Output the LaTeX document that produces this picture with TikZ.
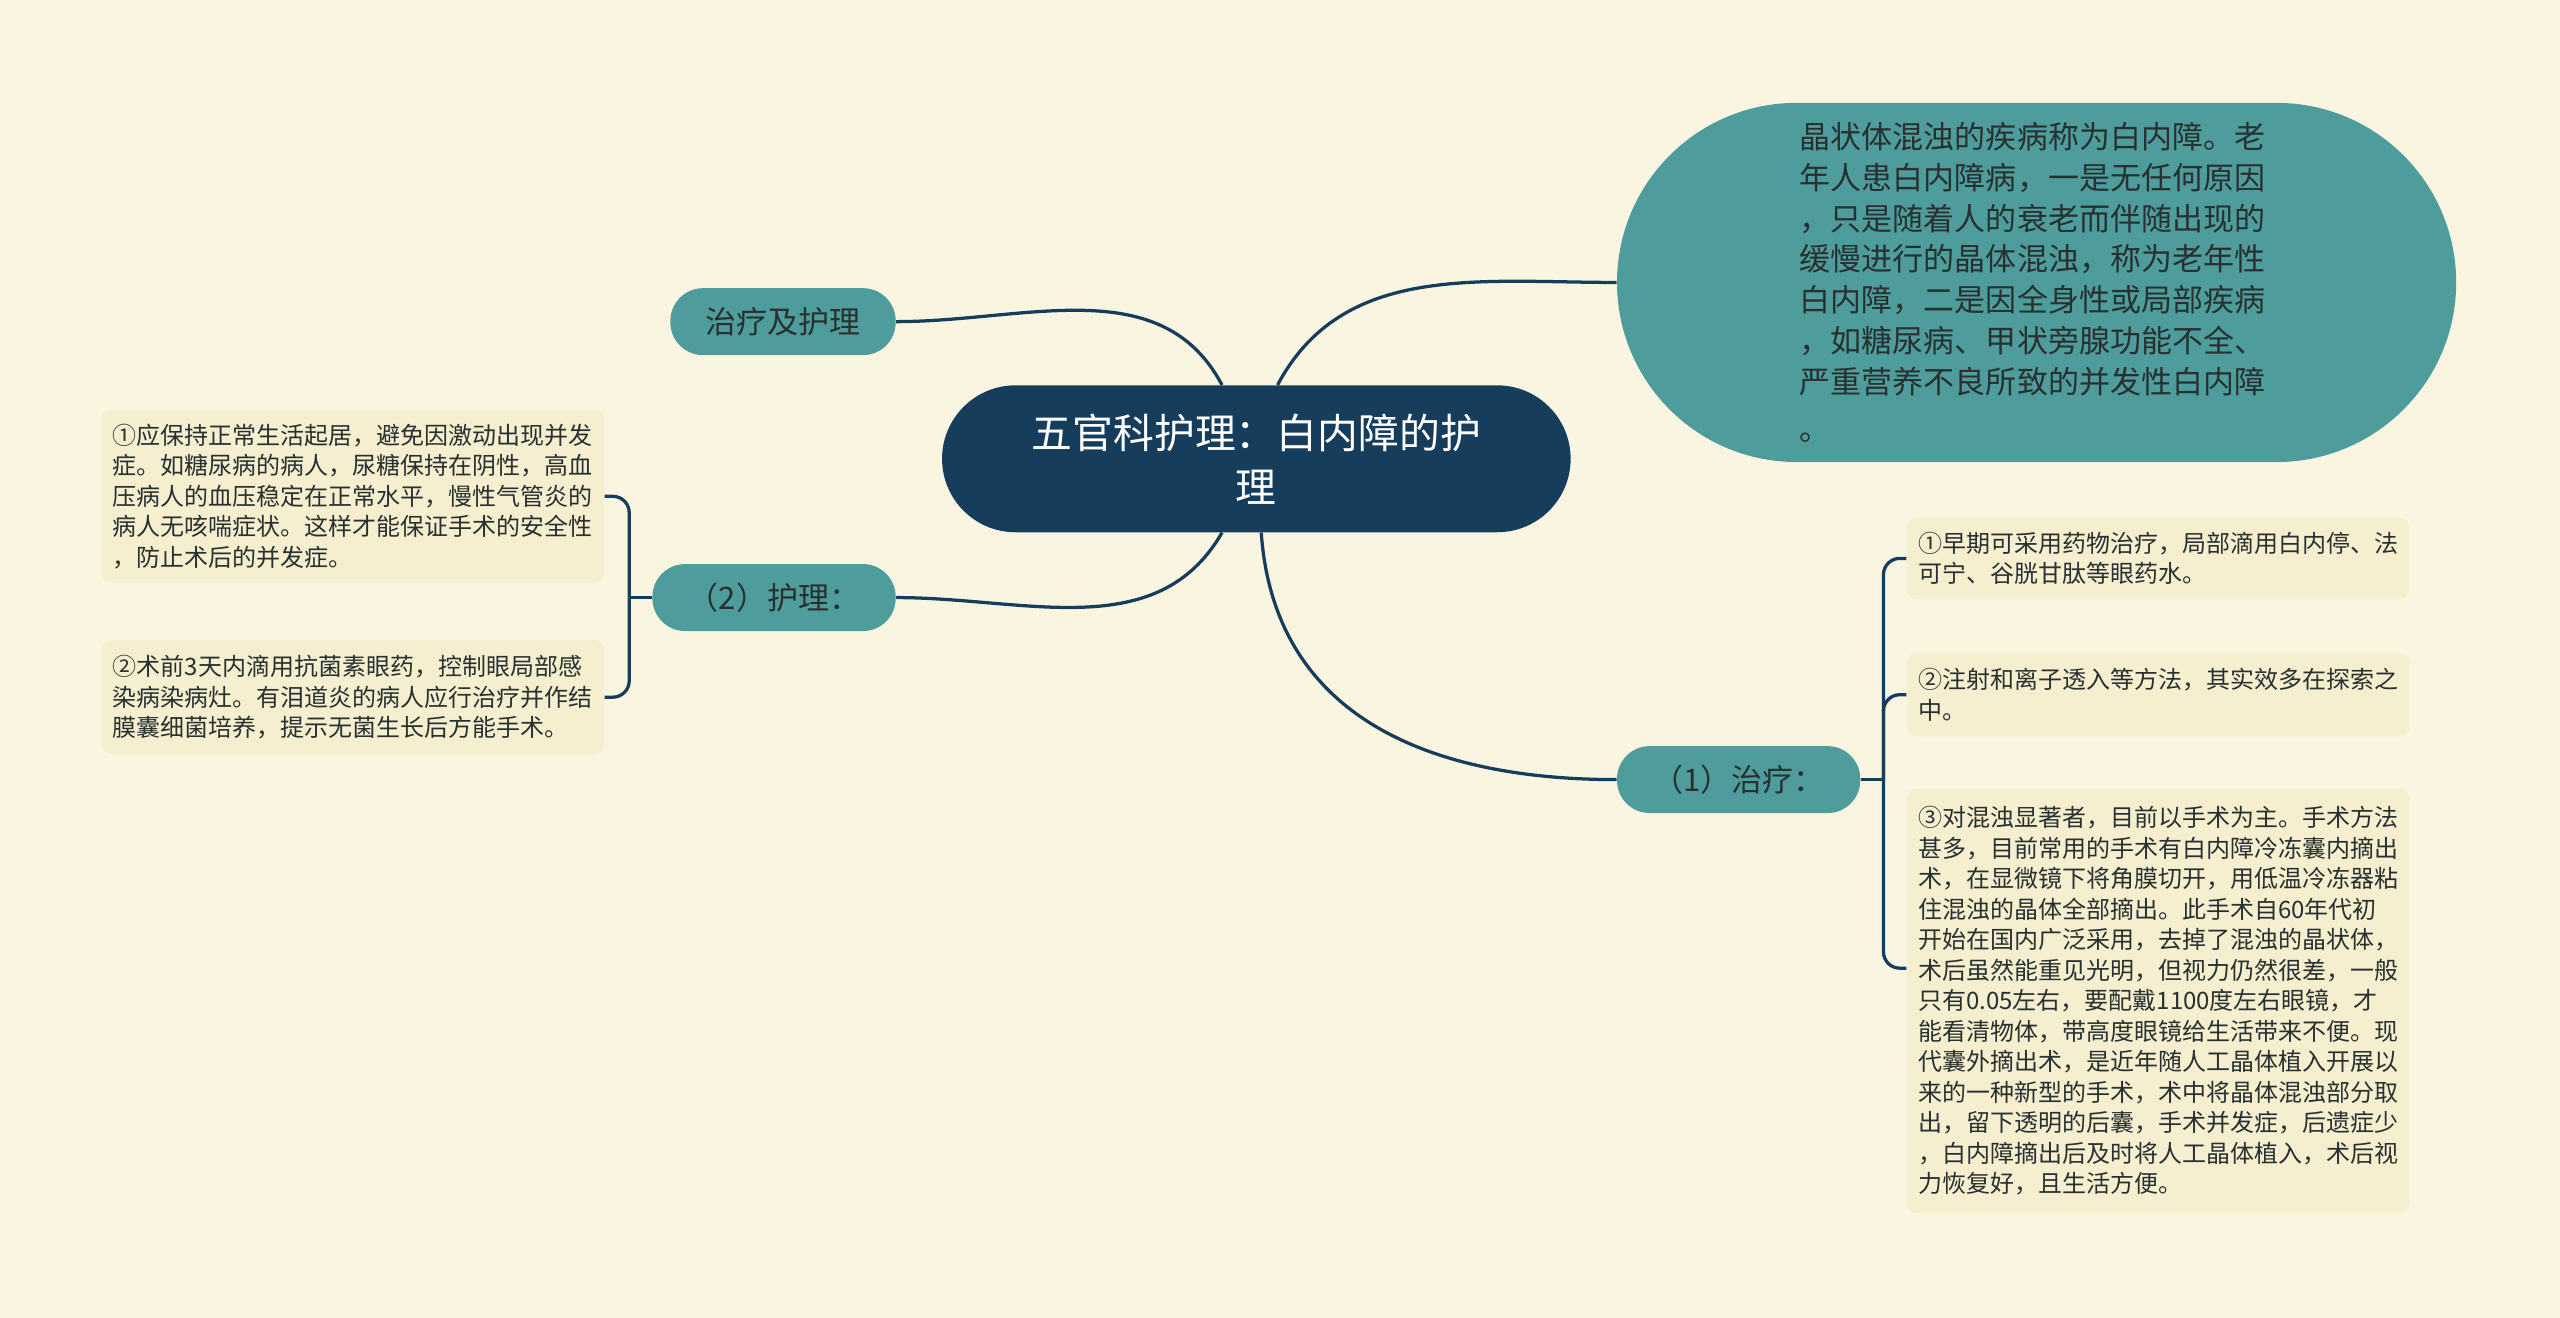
\documentclass[tikz,border=0pt]{standalone}
\usepackage{fontspec}
\setmainfont{Noto Sans CJK SC}
\usepackage{xcolor}
\usepackage{tikz}
\usetikzlibrary{positioning}
\definecolor{bgcolor}{RGB}{250,245,225}
\definecolor{hubcolor}{RGB}{23,61,92}
\definecolor{branchcolor}{RGB}{78,156,156}
\definecolor{leafcolor}{RGB}{245,239,208}
\definecolor{linkcolor}{RGB}{23,61,92}
\definecolor{textcolor}{RGB}{40,48,48}

\begin{document}
\begin{tikzpicture}[
    x=1pt, y=1pt,
    font=\fontsize{19}{25}\selectfont,
    link/.style={line width=2pt, color=linkcolor},
    hubbox/.style={
        rectangle,
        rounded corners=45pt,
        minimum width=385pt,
        minimum height=90pt,
        align=center,
        fill=hubcolor,
        text=white,
        font=\fontsize{25}{33}\selectfont
    },
    branchbox/.style={
        rectangle,
        rounded corners=20pt,
        minimum height=41pt,
        fill=branchcolor,
        text=textcolor
    },
    leafbox/.style={
        rectangle,
        rounded corners=6pt,
        text width=294pt,
        inner xsep=7pt,
        inner ysep=6pt,
        align=left,
        fill=leafcolor,
        text=textcolor,
        font=\fontsize{14.7}{18.7}\selectfont
    }
]

% Background
\fill [bgcolor] (0,0) rectangle (1568,-807);

%% CENTRE %%
\node (hub) [hubbox] at (769.5,-281) {五官科护理：白内障的护\\理};

%% RIGHT SIDE - definition %%
\node (defn_box) [
    right=28pt of hub,
    yshift=108pt,
    rectangle,
    rounded corners=110pt,
    minimum width=514pt,
    minimum height=220pt,
    text width=290pt,
    align=left,
    fill=branchcolor,
    text=textcolor
] {晶状体混浊的疾病称为白内障。老\\
年人患白内障病，一是无任何原因\\
，只是随着人的衰老而伴随出现的\\
缓慢进行的晶体混浊，称为老年性\\
白内障，二是因全身性或局部疾病\\
，如糖尿病、甲状旁腺功能不全、\\
严重营养不良所致的并发性白内障\\[4pt]
。};

%% LEFT SIDE - branches %%
\node (care_title) [branchbox, minimum width=138pt, left=28pt of hub, yshift=84pt] {治疗及护理};

\node (nursing) [branchbox, minimum width=149pt, left=28pt of hub, yshift=-85pt] {（2）护理：};

\node (nurse_a) [leafbox, left=29pt of nursing, yshift=62pt, minimum height=106pt] {①应保持正常生活起居，避免因激动出现并发\\
症。如糖尿病的病人，尿糖保持在阴性，高血\\
压病人的血压稳定在正常水平，慢性气管炎的\\
病人无咳喘症状。这样才能保证手术的安全性\\
，防止术后的并发症。};

\node (nurse_b) [leafbox, left=29pt of nursing, yshift=-61pt, minimum height=70pt] {②术前3天内滴用抗菌素眼药，控制眼局部感\\
染病染病灶。有泪道炎的病人应行治疗并作结\\
膜囊细菌培养，提示无菌生长后方能手术。};

%% RIGHT SIDE - treatment %%
\node (treat) [branchbox, minimum width=149pt, right=28pt of hub, yshift=-196.5pt] {（1）治疗：};

\node (treat_a) [leafbox, right=28pt of treat, yshift=135.5pt, minimum height=50pt] {①早期可采用药物治疗，局部滴用白内停、法\\
可宁、谷胱甘肽等眼药水。};

\node (treat_b) [leafbox, right=28pt of treat, yshift=52pt, minimum height=51pt] {②注射和离子透入等方法，其实效多在探索之\\
中。};

\node (treat_c) [leafbox, right=28pt of treat, yshift=-135.5pt, minimum height=260pt] {③对混浊显著者，目前以手术为主。手术方法\\
甚多，目前常用的手术有白内障冷冻囊内摘出\\
术，在显微镜下将角膜切开，用低温冷冻器粘\\
住混浊的晶体全部摘出。此手术自60年代初\\
开始在国内广泛采用，去掉了混浊的晶状体，\\
术后虽然能重见光明，但视力仍然很差，一般\\
只有0.05左右，要配戴1100度左右眼镜，才\\
能看清物体，带高度眼镜给生活带来不便。现\\
代囊外摘出术，是近年随人工晶体植入开展以\\
来的一种新型的手术，术中将晶体混浊部分取\\
出，留下透明的后囊，手术并发症，后遗症少\\
，白内障摘出后及时将人工晶体植入，术后视\\
力恢复好，且生活方便。};

%% LINKS %%
\draw [link] ([xshift=13pt]hub.north) to[out=62, in=180] (defn_box.west);
\draw [link] ([xshift=-21pt]hub.north) to[out=118, in=0] (care_title.east);
\draw [link] ([xshift=-21pt]hub.south) to[out=240, in=0] (nursing.east);
\draw [link] ([xshift=3pt]hub.south) to[out=-86, in=180, looseness=1.1] (treat.west);

%% Brackets %%
\draw [link] (nursing.west) -- ++(-14,0) coordinate (nurse_fork);
\draw [link, rounded corners=10pt] (nurse_fork) |- (nurse_a.east);
\draw [link, rounded corners=10pt] (nurse_fork) |- (nurse_b.east);

\draw [link] (treat.east) -- ++(14,0) coordinate (treat_fork);
\draw [link, rounded corners=10pt] (treat_fork) |- (treat_a.west);
\draw [link, rounded corners=10pt] (treat_fork) |- (treat_b.west);
\draw [link, rounded corners=10pt] (treat_fork) |- ([yshift=20pt]treat_c.west);

\end{tikzpicture}
\end{document}
